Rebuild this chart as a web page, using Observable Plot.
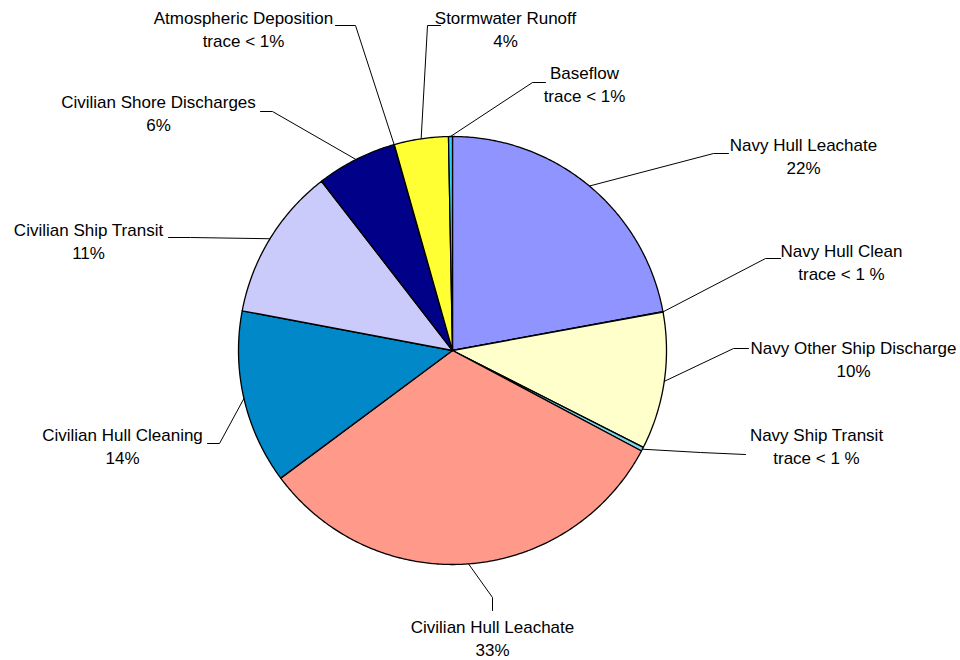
<!DOCTYPE html>
<html>
<head>
<meta charset="utf-8">
<script src="https://cdn.jsdelivr.net/npm/d3@7"></script>
<script src="https://cdn.jsdelivr.net/npm/@observablehq/plot@0.6"></script>
<style>
  body { margin: 0; background: #ffffff; }
  #chart svg { display: block; }
</style>
</head>
<body>
<div id="chart"></div>
<script>
// ---------- data ----------
const categories = [
  "Navy Hull Leachate",
  "Navy Hull Clean",
  "Navy Other Ship Discharge",
  "Navy Ship Transit",
  "Civilian Hull Leachate",
  "Civilian Hull Cleaning",
  "Civilian Ship Transit",
  "Civilian Shore Discharges",
  "Atmospheric Deposition",
  "Stormwater Runoff",
  "Baseflow"
];
const values = [22.2, 0.03, 10.4, 0.3, 32.2, 13.2, 11.6, 6.1, 0.03, 4.1, 0.3];
const valueLabels = ["22%", "trace < 1 %", "10%", "trace < 1 %", "33%", "14%", "11%", "6%", "trace < 1%", "4%", "trace < 1%"];
const colors = ["#8F94FF", "#FF00FF", "#FFFFCC", "#7FD6E8", "#FF998A", "#0088C8", "#CACAFB", "#000088", "#800080", "#FFFF33", "#33CCFF"];

// ---------- layout (pixels) ----------
const W = 960, H = 660, CX = 452, CY = 350, R = 214;
const labelCenters = [
  [803, 155], [841, 261], [853, 358], [816, 444.5], [492, 636.5], [122, 445],
  [88, 239.5], [158, 112], [243, 28], [505, 28], [584, 83]
];
const leaderBends = [
  [[713, 153], [728, 153]],
  [[765, 258], [780, 258]],
  [[733, 348], [748, 348]],
  [[700, 452], [745, 454]],
  [[492, 597], [492, 610]],
  [[219, 443], [207, 443]],
  [[190, 237], [168, 237]],
  [[272, 111], [260, 111]],
  [[355, 25], [335, 25]],
  [[427, 25], [440, 25]],
  [[532, 82], [545, 82]]
];

const ux = px => (px - CX) / R;
const uy = py => (CY - py) / R;

// ---------- geometry from data ----------
const arcs = d3.pie().sort(null).value(d => d)(values);
const slicePts = [];
arcs.forEach((a, i) => {
  slicePts.push({name: categories[i], color: colors[i], x: 0, y: 0});
  const n = Math.max(2, Math.ceil((a.endAngle - a.startAngle) / (Math.PI / 360)));
  for (let k = 0; k <= n; k++) {
    const t = a.startAngle + (a.endAngle - a.startAngle) * k / n;
    slicePts.push({name: categories[i], color: colors[i], x: Math.sin(t), y: Math.cos(t)});
  }
});

const leaderPts = [];
arcs.forEach((a, i) => {
  const m = (a.startAngle + a.endAngle) / 2;
  leaderPts.push({name: categories[i], x: Math.sin(m), y: Math.cos(m)});
  leaderBends[i].forEach(([px, py]) => leaderPts.push({name: categories[i], x: ux(px), y: uy(py)}));
});

const labels = categories.map((c, i) => ({
  text: c + "\n" + valueLabels[i],
  x: ux(labelCenters[i][0]),
  y: uy(labelCenters[i][1])
}));

const chart = Plot.plot({
  width: W,
  height: H,
  margin: 0,
  style: {fontFamily: "'Liberation Sans', Arial, sans-serif", background: "#ffffff"},
  x: {domain: [ux(0), ux(W)], axis: null},
  y: {domain: [uy(H), uy(0)], axis: null},
  color: {type: "identity"},
  marks: [
    Plot.line(slicePts, {
      x: "x", y: "y", z: "name", fill: "color",
      stroke: "#000", strokeWidth: 1.3, strokeLinejoin: "round",
      curve: "linear-closed"
    }),
    Plot.line(leaderPts, {x: "x", y: "y", z: "name", stroke: "#000", strokeWidth: 1}),
    Plot.text(labels, {
      x: "x", y: "y", text: "text",
      fontSize: 17, lineHeight: 1.36, fill: "#000",
      textAnchor: "middle", lineAnchor: "middle"
    })
  ]
});
document.getElementById("chart").appendChild(chart);
</script>
</body>
</html>
